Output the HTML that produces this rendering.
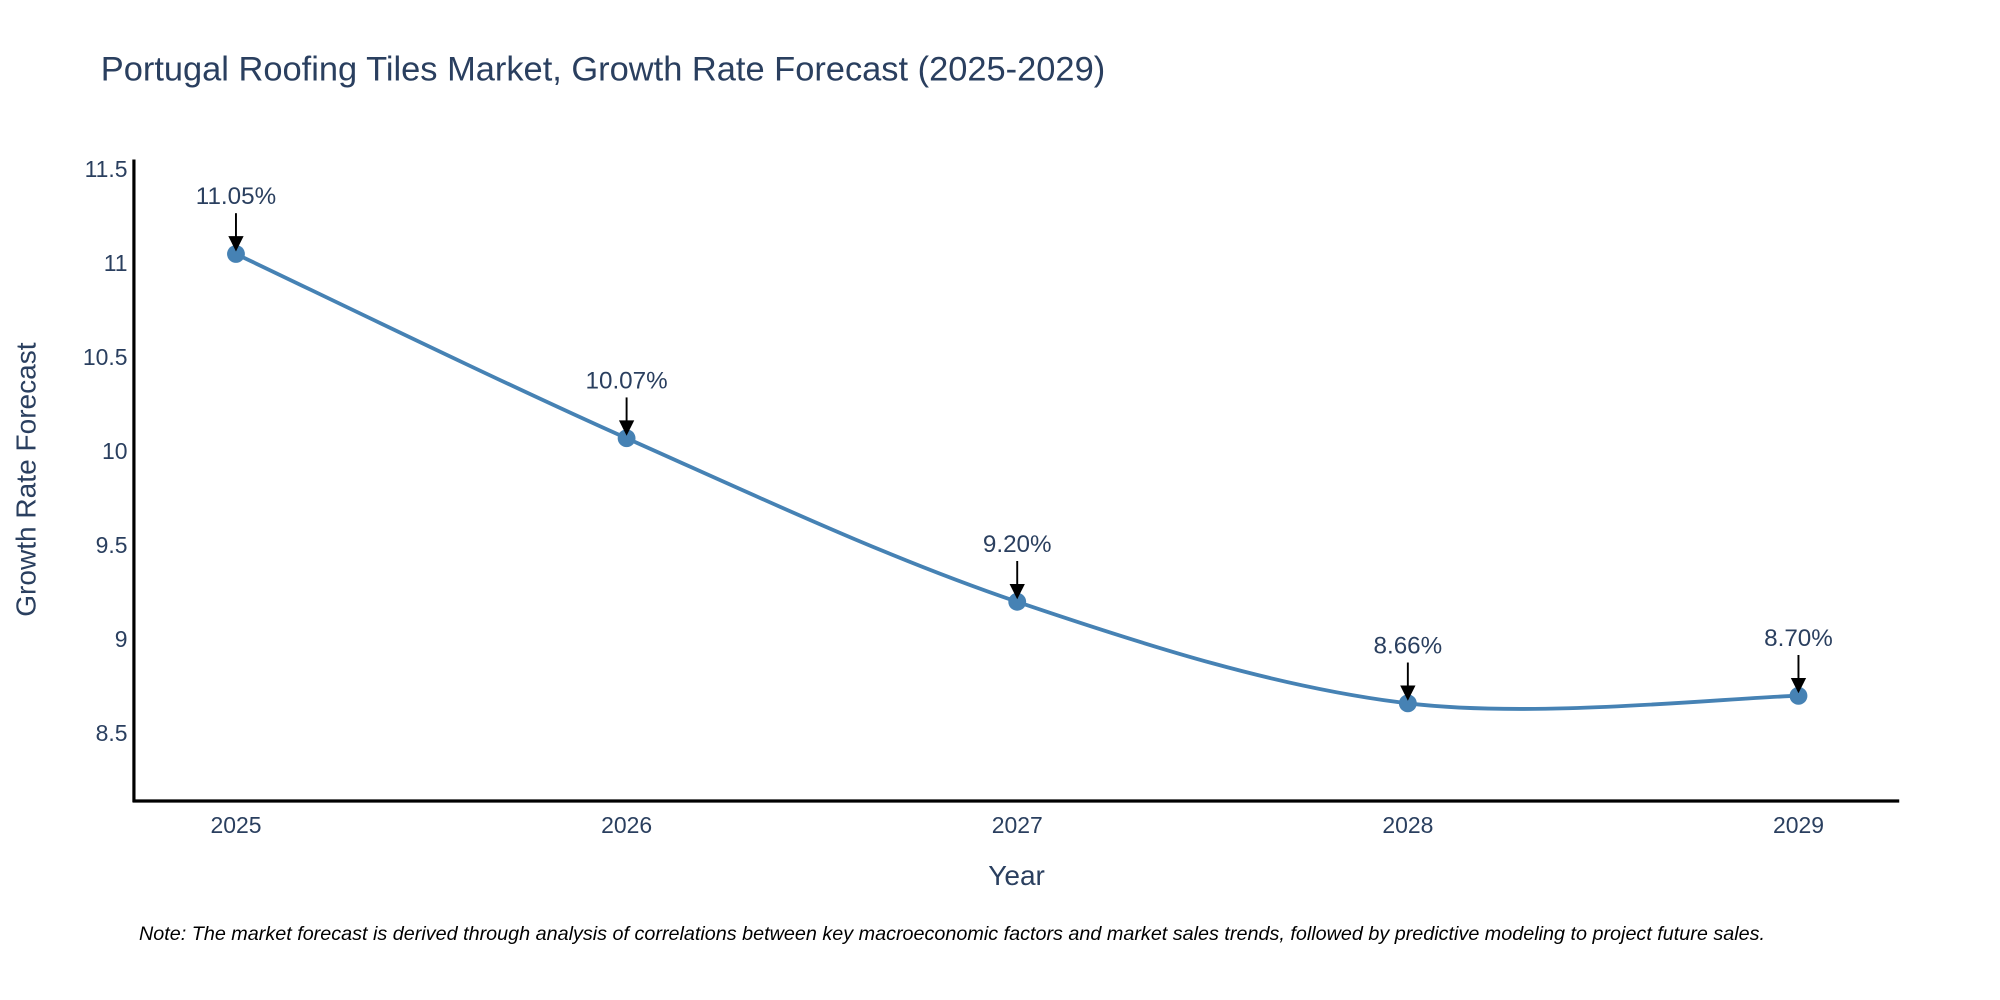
<!DOCTYPE html>
<html><head><meta charset="utf-8"><style>
html,body{margin:0;padding:0;background:#fff;}
svg{display:block;font-family:"Liberation Sans","DejaVu Sans",sans-serif;}
</style></head><body>
<svg id="chart" width="2000" height="1000" viewBox="0 0 1568 784" xmlns="http://www.w3.org/2000/svg">
<rect width="1568" height="784" fill="#fff"/>
<text x="79" y="63" font-size="27" fill="#2a3f5f">Portugal Roofing Tiles Market, Growth Rate Forecast (2025-2029)</text>
<g id="yticks"></g>
<g id="xticks"></g>
<line x1="105" y1="125" x2="105" y2="629" stroke="#000" stroke-width="2.5"/>
<line x1="104" y1="628" x2="1489" y2="628" stroke="#000" stroke-width="2.5"/>
<text transform="translate(28,376) rotate(-90)" text-anchor="middle" font-size="22" fill="#2a3f5f">Growth Rate Forecast</text>
<text x="797" y="694" text-anchor="middle" font-size="22" fill="#2a3f5f">Year</text>
<g id="series"></g>
<g id="annots"></g>
<text x="109" y="737" font-size="15.5" font-style="italic" fill="#000">Note: The market forecast is derived through analysis of correlations between key macroeconomic factors and market sales trends, followed by predictive modeling to project future sales.</text>
</svg>
<script>
const years = [2025, 2026, 2027, 2028, 2029];
const growth = [11.05, 10.07, 9.20, 8.66, 8.70];
const labels = ["11.05%", "10.07%", "9.20%", "8.66%", "8.70%"];
const yTicks = [8.5, 9, 9.5, 10, 10.5, 11, 11.5];
const yTickLabels = ["8.5", "9", "9.5", "10", "10.5", "11", "11.5"];

const NS = "http://www.w3.org/2000/svg";
function xS(v){ return 185 + (v - 2025) * 306.25; }
function yS(v){ return 575 - (v - 8.5) * 147.4; }
function mk(tag, attrs, parent){ const e = document.createElementNS(NS, tag); for (const k in attrs) e.setAttribute(k, attrs[k]); parent.appendChild(e); return e; }

const yg = document.getElementById('yticks');
yTicks.forEach((v, i) => {
  const t = mk('text', {x: 100, y: yS(v) + 6, 'text-anchor': 'end', 'font-size': 18, fill: '#2a3f5f'}, yg);
  
  
  t.textContent = yTickLabels[i];
});
const xg = document.getElementById('xticks');
years.forEach(y => {
  const t = mk('text', {x: xS(y), y: 653, 'text-anchor': 'middle', 'font-size': 18, fill: '#2a3f5f'}, xg);
  
  
  t.textContent = String(y);
});

const pts = years.map((y, i) => [xS(y), yS(growth[i])]);
const sm = 0.5 / 1.0 * 0.6;
let d = 'M' + pts[0][0] + ',' + pts[0][1];
for (let i = 0; i < pts.length - 1; i++) {
  const p0 = pts[Math.max(0, i - 1)], p1 = pts[i], p2 = pts[i + 1], p3 = pts[Math.min(pts.length - 1, i + 2)];
  const c1 = [p1[0] + (p2[0] - p0[0]) * sm / 1.8, p1[1] + (p2[1] - p0[1]) * sm / 1.8];
  const c2 = [p2[0] - (p3[0] - p1[0]) * sm / 1.8, p2[1] - (p3[1] - p1[1]) * sm / 1.8];
  d += ' C' + c1[0] + ',' + c1[1] + ' ' + c2[0] + ',' + c2[1] + ' ' + p2[0] + ',' + p2[1];
}
const sg = document.getElementById('series');
const path = mk('path', {d: d, fill: 'none', stroke: '#4682B4', 'stroke-width': 3}, sg);


pts.forEach(p => {
  const c = mk('circle', {cx: p[0], cy: p[1], r: 7, fill: '#4682B4'}, sg);
  
  
});

const ag = document.getElementById('annots');
pts.forEach((p, i) => {
  const t = mk('text', {x: p[0], y: p[1] - 39, 'text-anchor': 'middle', 'font-size': 19, fill: '#2a3f5f'}, ag);
  
  
  t.textContent = labels[i];
  const l = mk('line', {x1: p[0], y1: p[1] - 32, x2: p[0], y2: p[1] - 12, stroke: '#000', 'stroke-width': 1.5}, ag);
  
  
  const h = mk('polygon', {points: (p[0]-6)+','+(p[1]-14)+' '+(p[0]+6)+','+(p[1]-14)+' '+p[0]+','+(p[1]-2), fill: '#000'}, ag);
  
  
});
</script>
</body></html>
